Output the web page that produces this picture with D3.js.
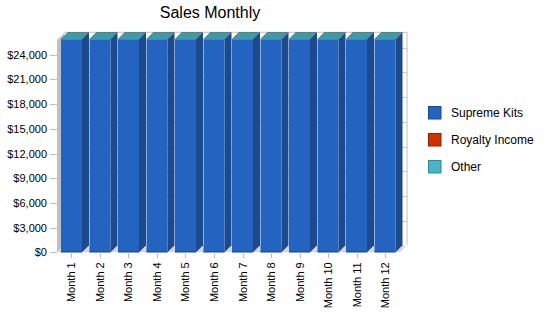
<!DOCTYPE html>
<html>
<head>
<meta charset="utf-8">
<script src="https://cdn.jsdelivr.net/npm/d3@7"></script>
<style>
  body { margin: 0; background: #fff; }
  svg { font-family: "Liberation Sans", Arial, sans-serif; }
</style>
</head>
<body>
<svg id="chart" width="550" height="318"></svg>
<script>
// Chart data
const months = ['Month 1', 'Month 2', 'Month 3', 'Month 4', 'Month 5', 'Month 6',
    'Month 7', 'Month 8', 'Month 9', 'Month 10', 'Month 11', 'Month 12'];
const supremeKits = [25875, 25875, 25875, 25875, 25875, 25875, 25875, 25875, 25875, 25875, 25875, 25875];
const royaltyIncome = [0, 0, 0, 0, 0, 0, 0, 0, 0, 0, 0, 0];
const other = [0, 0, 0, 0, 0, 0, 0, 0, 0, 0, 0, 0];
const seriesNames = ['Supreme Kits', 'Royalty Income', 'Other'];
const yTicks = [0, 3000, 6000, 9000, 12000, 15000, 18000, 21000, 24000];
const yMax = 25875;

// Looks
const colors = {
    'Supreme Kits': {front: '#2563c0', side: '#1c4a8f', top: '#2c73c8', edge: '#1c4a8f'},
    'Royalty Income': {front: '#cc3300', side: '#992600', top: '#b83000', edge: '#8b2200'},
    'Other': {front: '#4ab4c4', side: '#37878f', top: '#3d9aa6', edge: '#2e8a96'}
};
const depth = 7;

const svg = d3.select('#chart');

// table rows built from the arrays
const rows = months.map((m, i) => ({
    month: m,
    'Supreme Kits': supremeKits[i],
    'Royalty Income': royaltyIncome[i],
    'Other': other[i]
}));
const stacked = d3.stack().keys(seriesNames)(rows);

const x = d3.scaleBand()
    .domain(months)
    .range([57, 399.5])
    .paddingInner(0.263)
    .paddingOuter(0.14);

const y = d3.scaleLinear()
    .domain([0, yMax])
    .range([252.3, 39.3]);

const pLeft = 57, pRight = 400, pBottom = y(0), pTop = y(yMax);

// Back wall
svg.append('rect')
    .attr('x', pLeft + depth).attr('y', pTop - depth)
    .attr('width', pRight - pLeft).attr('height', pBottom - pTop)
    .attr('fill', '#fff');

// grid lines on the back wall
svg.append('g').selectAll('line')
    .data(yTicks.filter(d => d > 0))
    .enter().append('line')
    .attr('x1', pLeft + depth).attr('x2', pRight + depth)
    .attr('y1', d => Math.round(y(d) - depth) + 0.5).attr('y2', d => Math.round(y(d) - depth) + 0.5)
    .attr('stroke', '#c8c8c8').attr('stroke-width', 1);

// wall frame
svg.append('polyline')
    .attr('points', [[pLeft + depth, pBottom - depth], [pLeft + depth, pTop - depth],
        [pRight + depth, pTop - depth], [pRight + depth, pBottom - depth]].join(' '))
    .attr('fill', 'none').attr('stroke', '#c0c0c0');

// Left wall
svg.append('polygon')
    .attr('points', [[pLeft, pBottom], [pLeft, pTop], [pLeft + depth, pTop - depth], [pLeft + depth, pBottom - depth]].join(' '))
    .attr('fill', '#c0c0c0');
svg.append('line')
    .attr('x1', pLeft).attr('y1', pTop).attr('x2', pLeft + depth).attr('y2', pTop - depth)
    .attr('stroke', '#fff').attr('stroke-width', 1.5);

// Floor
svg.append('polygon')
    .attr('points', [[pLeft, pBottom], [pRight, pBottom], [pRight + depth, pBottom - depth], [pLeft + depth, pBottom - depth]].join(' '))
    .attr('fill', '#d6d6d6');
svg.append('line')
    .attr('x1', pLeft + depth).attr('y1', pBottom - depth).attr('x2', pRight + depth).attr('y2', pBottom - depth)
    .attr('stroke', '#fff');

// Bars (3D stacked)
const bw = x.bandwidth();
months.forEach((m, i) => {
    const g = svg.append('g');
    const x0 = x(m);
    stacked.forEach(layer => {
        const c = colors[layer.key];
        const y0 = y(layer[i][0]);
        const y1 = y(layer[i][1]);
        // side
        g.append('polygon')
            .attr('points', [[x0 + bw, y0], [x0 + bw, y1], [x0 + bw + depth, y1 - depth], [x0 + bw + depth, y0 - depth]].join(' '))
            .attr('fill', c.side);
        // front
        if (y0 - y1 > 0) {
            g.append('rect')
                .attr('x', x0).attr('y', y1)
                .attr('width', bw).attr('height', y0 - y1)
                .attr('fill', c.front);
            g.append('line')
                .attr('x1', x0).attr('x2', x0 + bw)
                .attr('y1', y0 - 0.5).attr('y2', y0 - 0.5)
                .attr('stroke', c.edge);
        }
        // top
        g.append('polygon')
            .attr('points', [[x0, y1], [x0 + bw, y1], [x0 + bw + depth, y1 - depth], [x0 + depth, y1 - depth]].join(' '))
            .attr('fill', c.top);
    });
});

// Y axis labels and ticks
const yg = svg.append('g');
yg.selectAll('line')
    .data(yTicks)
    .enter().append('line')
    .attr('x1', 50).attr('x2', pLeft)
    .attr('y1', d => Math.round(y(d)) + 0.5).attr('y2', d => Math.round(y(d)) + 0.5)
    .attr('stroke', '#c0c0c0');
yg.selectAll('text')
    .data(yTicks)
    .enter().append('text')
    .attr('x', 47)
    .attr('y', d => y(d) + 4)
    .attr('text-anchor', 'end')
    .attr('font-size', 11)
    .attr('fill', '#000')
    .text(d => '$' + d3.format(',')(d));

// X axis ticks and labels
const xg = svg.append('g');
xg.selectAll('line')
    .data(months)
    .enter().append('line')
    .attr('x1', d => Math.round(x(d) + bw / 2) + 0.5).attr('x2', d => Math.round(x(d) + bw / 2) + 0.5)
    .attr('y1', pBottom).attr('y2', pBottom + 6)
    .attr('stroke', '#c0c0c0');
xg.selectAll('text')
    .data(months)
    .enter().append('text')
    .attr('transform', d => 'translate(' + (x(d) + bw / 2 + 4) + ',' + (pBottom + 10) + ') rotate(-90)')
    .attr('text-anchor', 'end')
    .attr('font-size', 11)
    .attr('fill', '#000')
    .text(d => d);

// Title
svg.append('text')
    .attr('x', 210).attr('y', 18)
    .attr('text-anchor', 'middle')
    .attr('font-size', 16)
    .attr('fill', '#000')
    .text('Sales Monthly');

// Legend
const lg = svg.append('g').attr('transform', 'translate(428,106)');
const items = lg.selectAll('g')
    .data(seriesNames)
    .enter().append('g')
    .attr('transform', (d, i) => 'translate(0,' + (i * 27) + ')');
items.append('rect')
    .attr('x', 0.5).attr('y', 0.5)
    .attr('width', 12.5).attr('height', 12.5)
    .attr('fill', d => colors[d].front)
    .attr('stroke', d => colors[d].edge);
items.append('text')
    .attr('x', 23).attr('y', 11)
    .attr('font-size', 12)
    .attr('fill', '#000')
    .text(d => d);
</script>
</body>
</html>
